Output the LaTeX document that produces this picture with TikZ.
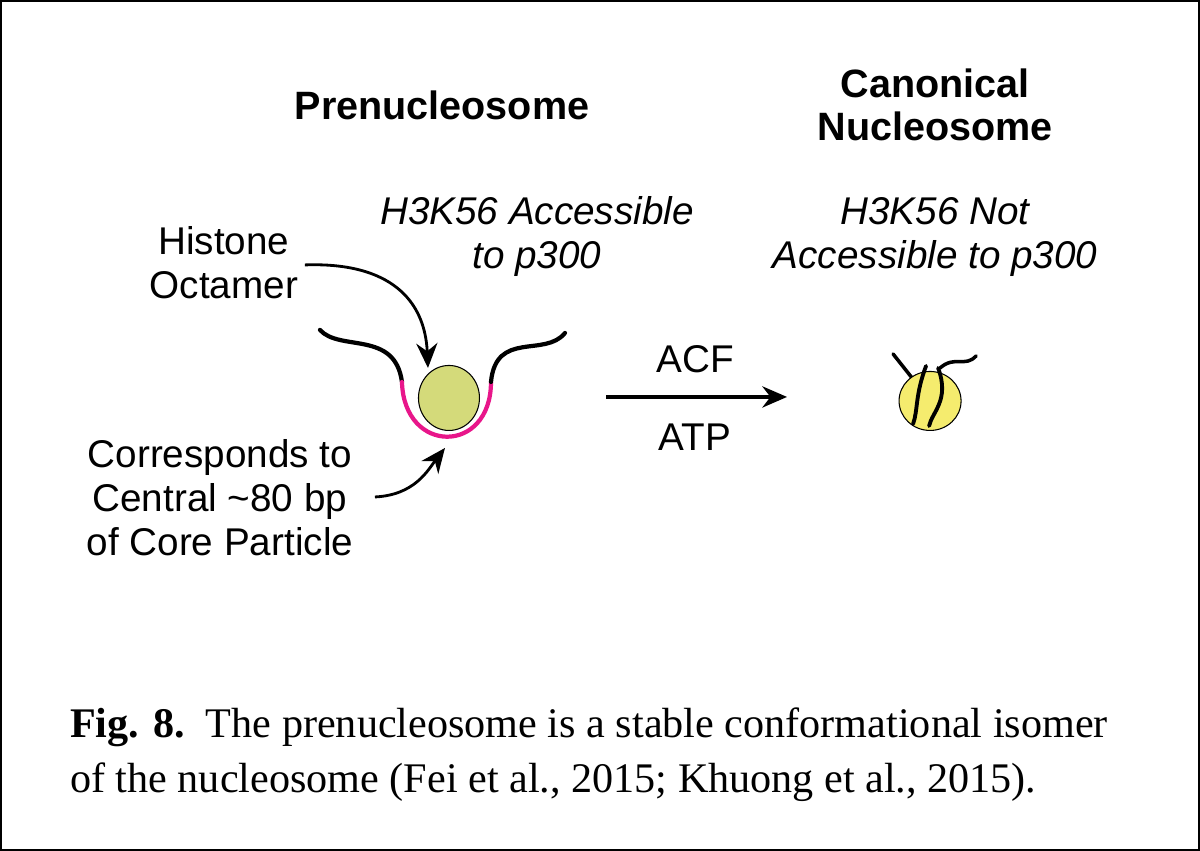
\documentclass[tikz,border=0pt]{standalone}
\usepackage{fontspec}
\setmainfont{Liberation Serif}
\setsansfont{Liberation Sans}
\usetikzlibrary{positioning,arrows.meta,shapes.geometric}
\definecolor{octgreen}{HTML}{D4DA7A}
\definecolor{nucyellow}{HTML}{F5EC6E}
\definecolor{dnapink}{HTML}{E8168A}
\begin{document}
\begin{tikzpicture}[
    x=0.02cm,y=-0.02cm,
    >={Stealth[length=14pt,width=12pt]},
    lbl/.style={font=\sffamily\fontsize{22}{25}\selectfont,align=center},
    title/.style={font=\sffamily\bfseries\fontsize{22.5}{25}\selectfont,align=center},
    note/.style={lbl,font=\sffamily\itshape\fontsize{22}{25}\selectfont},
    dna/.style={line width=2.4pt,line cap=round},
    point/.style={->,line width=1.6pt}
    ]
    \draw[line width=1pt] (1,1) rectangle (1199,850);

    % titles
    \node [title] (pretitle) at (442,105) {Prenucleosome};
    \node [title] (cantitle) at (935,105) {Canonical\\Nucleosome};
    \node [note] (acc) at (537,237) {H3K56 Accessible\\to p300};
    \node [note] (notacc) at (935,237) {H3K56 Not\\Accessible to p300};
    \node [lbl] (octlbl) at (224,263) {Histone\\Octamer};
    \node [lbl] (corelbl) at (220,498) {Corresponds to\\Central \textasciitilde80 bp\\of Core Particle};

    % prenucleosome
    \node [ellipse,draw,fill=octgreen,inner sep=0,minimum width=1.22cm,
      minimum height=1.3cm,line width=0.6pt] (oct) at (449,398) {};
    \draw [dna] (320,330) .. controls (340,352) and (395,330) .. (402,382);
    \draw [dna,dnapink] (402,382) .. controls (404,455) and (491,455) .. (491,382);
    \draw [dna] (491,382) .. controls (496,330) and (545,358) .. (565,333);

    \coordinate (octtail) at (305,265);
    \coordinate (coretail) at (375,497);
    \draw [point] (octtail) .. controls (390,262) and (425,300) .. (428,368);
    \draw [point] (coretail) .. controls (415,495) and (428,470) .. (445,448);

    % reaction
    \coordinate (rstart) at (606,397);
    \coordinate (rend) at (787,397);
    \draw [->,line width=2.4pt] (rstart) -- (rend);
    \node [lbl] (acf) at (695,359) {ACF};
    \node [lbl] (atp) at (695,437) {ATP};

    % canonical nucleosome
    \draw [dna,line width=2pt] (893,354) -- (912,378);
    \node [ellipse,draw,fill=nucyellow,inner sep=0,minimum width=1.24cm,
      minimum height=1.18cm,line width=0.6pt] (nuc) at (930,401) {};
    \draw [dna,line width=2.2pt] (926,366) .. controls (915,395) and (918,410) .. (913,424);
    \draw [dna,line width=2.2pt] (938,368) .. controls (950,400) and (932,412) .. (929,426);
    \draw [dna,line width=2pt] (940,368) .. controls (955,355) and (965,368) .. (976,356);

    % caption
    \node [anchor=west,font=\fontsize{24}{28}\selectfont] (cap1) at (64,727)
      {\textbf{Fig. 8.}\ \ The prenucleosome is a stable conformational isomer};
    \node [anchor=west,font=\fontsize{24}{28}\selectfont] (cap2) at (64,782)
      {of the nucleosome (Fei et al., 2015; Khuong et al., 2015).};
\end{tikzpicture}
\end{document}
